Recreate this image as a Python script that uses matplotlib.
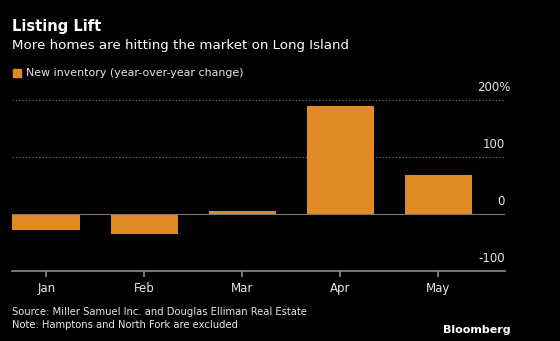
import matplotlib.pyplot as plt

months = ["Jan", "Feb", "Mar", "Apr", "May"]
inventory_change = [-28, -35, 6, 189, 68]
y_ticks = [-100, 0, 100, 200]
y_tick_labels = ["-100", "0", "100", "200%"]

bar_color = "#E08A24"
bg = "black"
grid_color = "#7a7a7a"
text_color = "#e6e6e6"

fig = plt.figure(figsize=(5.6, 3.41), dpi=100, facecolor=bg)
ax = fig.add_axes([12 / 560, 1 - 271 / 341, (505 - 12) / 560, 171 / 341])
ax.set_facecolor(bg)

x = list(range(len(months)))
ax.bar(x, inventory_change, width=0.69, color=bar_color, zorder=3)

ax.set_xlim(-0.35, 4.68)
ax.set_ylim(-100, 200)

# grid lines, dotted; zero line solid
for t in [100, 200]:
    ax.axhline(t, color=grid_color, lw=0.8, ls=(0, (1, 2)), zorder=1)
ax.axhline(0, color=grid_color, lw=0.8, zorder=4)

for s in ["top", "right", "left"]:
    ax.spines[s].set_visible(False)
ax.spines["bottom"].set_color("#8c8c8c")
ax.spines["bottom"].set_linewidth(1.2)

ax.set_xticks(x)
ax.set_xticklabels(months)
ax.tick_params(axis="x", colors="#8c8c8c", length=4, width=1.2, labelcolor=text_color,
               labelsize=8.5, pad=4)
ax.set_yticks([])

for t, lab in zip(y_ticks, y_tick_labels):
    dx = 4.3 if lab.endswith("%") else 0
    ax.annotate(lab, xy=(1, t), xycoords=("axes fraction", "data"),
                xytext=(dx, 4), textcoords="offset points", ha="right", va="bottom",
                color=text_color, fontsize=8.5)

fig.text(12 / 560, 1 - 27 / 341, "Listing Lift", color="white", fontsize=10.5,
         fontweight="bold", va="center", ha="left")
fig.text(12 / 560, 1 - 46 / 341, "More homes are hitting the market on Long Island",
         color="white", fontsize=9.6, va="center", ha="left")

# legend
fig.patches.append(plt.Rectangle((13 / 560, 1 - 77 / 341), 8 / 560, 8 / 341,
                                 transform=fig.transFigure, color=bar_color, figure=fig))
fig.text(26 / 560, 1 - 73 / 341, "New inventory (year-over-year change)",
         color=text_color, fontsize=7.9, va="center", ha="left")

fig.text(12 / 560, 1 - 312 / 341, "Source: Miller Samuel Inc. and Douglas Elliman Real Estate",
         color=text_color, fontsize=7.2, va="center", ha="left")
fig.text(12 / 560, 1 - 325 / 341, "Note: Hamptons and North Fork are excluded",
         color=text_color, fontsize=7.2, va="center", ha="left")
fig.text(511 / 560, 1 - 330 / 341, "Bloomberg", color="white", fontsize=8,
         fontweight="bold", va="center", ha="right")

fig.savefig("out.png", dpi=100, facecolor=bg)
